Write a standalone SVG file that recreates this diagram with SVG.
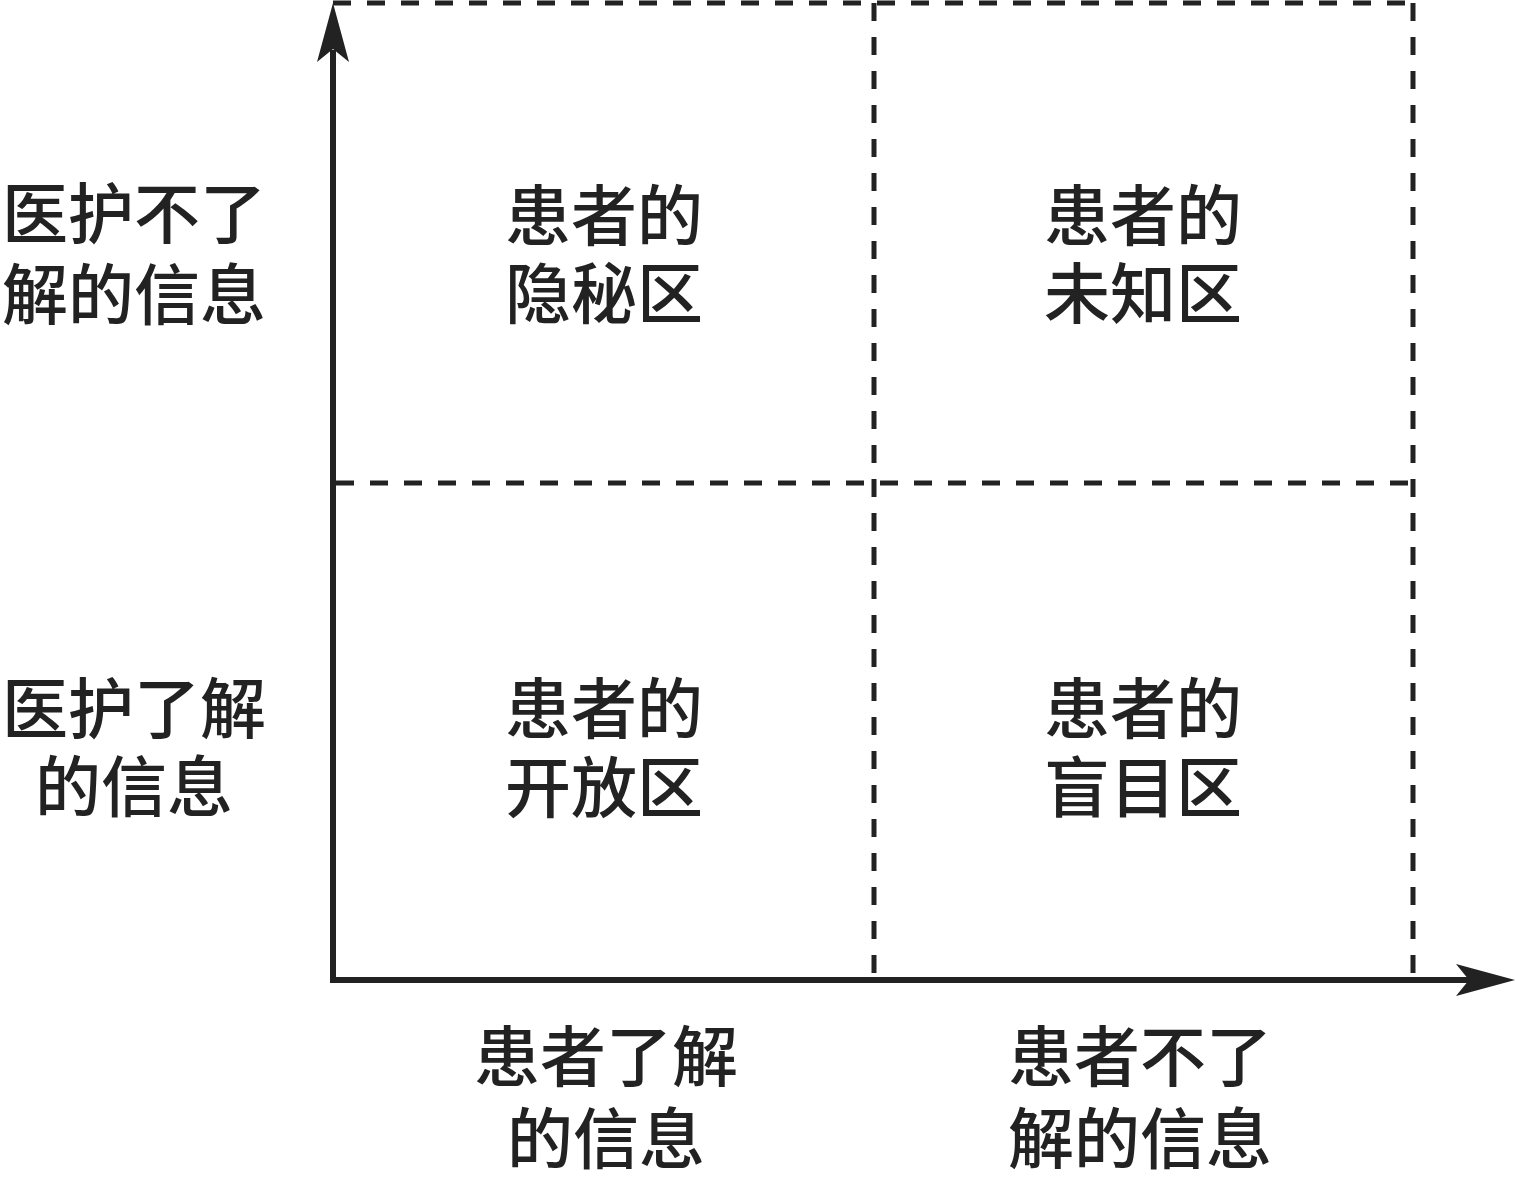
<svg xmlns="http://www.w3.org/2000/svg" width="1515" height="1181" viewBox="0 0 1515 1181">
<style>
.t{font-family:"Noto Sans CJK SC","Noto Sans CJK JP",sans-serif;font-size:66px;font-weight:500;fill:#222;text-anchor:middle;dominant-baseline:central}
.axis{stroke:#222;stroke-width:6;fill:none}
.dash{stroke:#222;stroke-width:5;fill:none;stroke-dasharray:18 16}
.head{fill:#222}
</style>
<rect width="1515" height="1181" fill="#fff"/>
<g id="connectors">
<line class="dash" x1="333" y1="3" x2="1413" y2="3"/>
<line class="dash" x1="874" y1="3" x2="874" y2="978"/>
<line class="dash" x1="1413" y1="3" x2="1413" y2="978"/>
<line class="dash" x1="336" y1="483" x2="1413" y2="483"/>
<line class="axis" x1="333" y1="50" x2="333" y2="983"/>
<line class="axis" x1="330" y1="980" x2="1470" y2="980"/>
<path class="head" d="M333,3 L349,62 L333,49 L317,62 Z"/>
<path class="head" d="M1515,980 L1456,964 L1469,980 L1456,996 Z"/>
</g>
<g id="q-hidden"><text class="t"><tspan x="604" y="211">患者的</tspan><tspan x="604" y="289">隐秘区</tspan></text></g>
<g id="q-unknown"><text class="t"><tspan x="1143" y="211">患者的</tspan><tspan x="1143" y="289">未知区</tspan></text></g>
<g id="q-open"><text class="t"><tspan x="604" y="704">患者的</tspan><tspan x="604" y="783">开放区</tspan></text></g>
<g id="q-blind"><text class="t"><tspan x="1143" y="704">患者的</tspan><tspan x="1143" y="783">盲目区</tspan></text></g>
<g id="y-top"><text class="t"><tspan x="134" y="209">医护不了</tspan><tspan x="134" y="290">解的信息</tspan></text></g>
<g id="y-bottom"><text class="t"><tspan x="134" y="704">医护了解</tspan><tspan x="134" y="782">的信息</tspan></text></g>
<g id="x-left"><text class="t"><tspan x="606" y="1052">患者了解</tspan><tspan x="606" y="1134">的信息</tspan></text></g>
<g id="x-right"><text class="t"><tspan x="1140" y="1052">患者不了</tspan><tspan x="1140" y="1134">解的信息</tspan></text></g>
</svg>
